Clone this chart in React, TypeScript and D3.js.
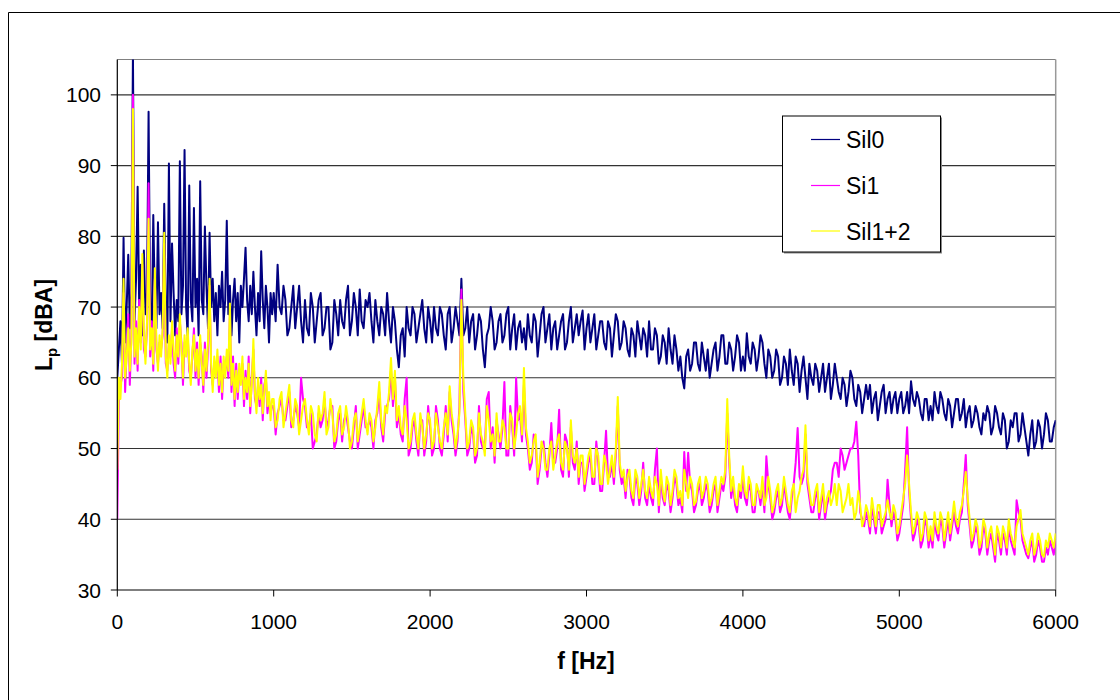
import React from "react";
import * as d3 from "d3";

const yTicks = [30, 40, 50, 60, 70, 80, 90, 100];
const xTicks = [0, 1000, 2000, 3000, 4000, 5000, 6000];
const seriesNames = ["Sil0", "Si1", "Sil1+2"];
const seriesColors = ["#000080", "#FF00FF", "#FFFF00"];

// frequency grids: 0..990 Hz every 10 Hz, 1000..6000 Hz every 12.5 Hz
const lowFreqs = d3.range(0, 1000, 10);
const highFreqs = d3.range(1000, 6000.1, 12.5);

// Sil0 (navy): 0..990 Hz
const sil0Low = [
  60, 64, 68, 62, 79.8, 65, 70, 77.4, 67, 72,
  106, 68, 74, 87, 70, 76, 66, 78, 69, 72,
  97.6, 70, 66, 83, 71, 67, 82, 69, 72, 67,
  84.6, 70, 65, 90.3, 68, 79, 72, 66, 71, 68,
  90.6, 69, 73, 92.2, 70, 66, 87.2, 71, 68, 84,
  70, 74, 66, 87.8, 71, 69, 81.4, 73, 67, 80.5,
  70, 74, 68, 72, 66, 73, 70, 75, 68, 71,
  82.2, 69, 73, 66, 71, 74, 68, 72, 65, 73,
  70, 74, 78.4, 71, 68, 73, 69, 75, 70, 66,
  72, 68, 77.9, 71, 67, 73, 70, 65, 72, 69,
];
// Sil0: 1000, 1025, ... 6000 Hz
const sil0High = [
  72, 76, 69, 71, 67, 73, 70, 68,
  71, 66, 70, 68, 72, 67, 70, 65,
  69, 71, 67, 73, 68, 70, 72.5, 67,
  70, 68, 71, 66, 69, 72, 65, 68,
  61.5, 67, 70, 66, 69, 67, 71, 65,
  68, 70, 66, 69, 64, 70, 67, 68,
  74, 67, 65, 69, 66, 68, 61.5, 67,
  68, 65, 69, 66, 70, 67, 64, 68,
  67, 69, 65, 68, 66, 70, 67, 64,
  68, 66, 69, 65, 70, 67, 66, 69.5,
  67, 65, 69, 66, 68, 64, 67, 66,
  68, 65, 67, 63, 66, 68, 64, 66,
  68, 64, 66, 63, 65, 67, 62, 64,
  63, 58.5, 64, 62, 65, 61, 63, 64,
  62, 65, 63, 66, 62, 64, 63, 65,
  63, 66.3, 62, 64, 63, 65, 60, 63,
  61, 63, 60, 62, 64, 59, 62, 61,
  60, 62, 59, 61, 60, 58, 62, 59,
  60, 57, 59, 58, 60, 56, 58, 57,
  57, 55, 58, 56, 59, 57, 55, 58,
  57, 55, 58, 59.5, 56, 57, 54, 57,
  56, 58, 55, 57, 54, 56, 55, 57,
  55, 53, 56, 54, 55, 52, 54, 55,
  53, 55, 52, 54, 51, 53, 55, 52,
  53, 49, 54, 51, 53, 52, 54, 51,
  54,
];
// Sil0: 1012.5, 1037.5, ... 5987.5 Hz
const sil0HighMid = [
  68, 70, 73, 66, 70, 67, 73, 65,
  67, 72, 65, 71, 66, 70, 64, 71,
  66, 68, 71, 66, 72, 66, 68, 71,
  72, 65, 68, 70, 66, 68, 70, 64,
  66, 63, 67, 70, 65, 69, 67, 70,
  65, 67, 70, 66, 69, 65, 70, 66,
  66, 70, 68, 64, 69, 64, 66, 70,
  64, 68, 65, 69, 64, 69, 67, 65,
  64, 66, 69, 63, 69, 65, 69, 67,
  64, 68, 64, 68, 65, 69, 68, 64,
  69, 67, 64, 68, 65, 68, 63, 69,
  64, 68, 64, 67, 63, 66, 67, 63,
  64, 67, 62, 66, 62, 64, 66, 61,
  60, 63, 61, 65, 62, 65, 61, 60,
  64, 61, 66, 62, 65, 61, 66, 61,
  61, 63, 65, 61, 66, 62, 64, 60,
  64, 59, 63, 59, 61, 63, 58, 63,
  57, 60, 62, 58, 62, 60, 57, 62,
  58, 60, 56, 61, 57, 59, 55, 59,
  59, 57, 54, 58, 55, 58, 57, 55,
  58, 56, 55, 57, 58, 55, 57, 54,
  54, 56, 58, 55, 57, 53, 57, 54,
  57, 55, 53, 56, 53, 55, 56, 52,
  56, 53, 55, 50, 54, 55, 51, 55,
  51, 52, 50, 54, 50, 55, 51, 53,
];

// Si1 (magenta)
const si1Low = [
  40, 57, 59, 60, 72, 58, 64, 69, 59, 66,
  100, 62, 68, 61, 71, 65, 76, 64, 63, 67,
  87.5, 63, 68, 61, 74, 64, 62, 65, 64, 66,
  79, 62, 61, 65, 63, 67, 62, 60, 67, 62,
  68, 65, 59, 65, 64, 66, 61, 60, 63, 67,
  60, 65, 59, 65, 63, 58, 65, 60, 64, 73,
  61, 59, 62, 61, 63, 58, 63, 57, 62, 61,
  63, 60, 69, 58, 63, 56, 62, 57, 61, 60,
  62, 56, 61, 57, 63, 55, 60, 64, 57, 56,
  59, 56, 60, 54, 59, 60, 55, 57, 55, 56,
];
const si1High = [
  56, 55, 57, 54, 58, 54, 55, 60,
  56, 53, 50, 52, 53, 57, 54, 56,
  51, 55, 54, 53, 50, 56, 52, 56,
  53, 53, 54, 58, 51, 56, 61, 60,
  55, 51, 60, 50, 54, 49, 54, 51,
  53, 50, 54, 49, 56, 58, 52, 51,
  72.5, 54, 50, 52, 49, 51, 50, 58,
  53, 54, 50, 59.4, 49, 53, 60, 55,
  59, 50, 48, 51, 47, 51, 46, 53.6,
  48, 55.5, 46, 51, 53, 47, 45, 48,
  46, 49, 45, 48, 44, 52.5, 46, 45,
  56, 45, 43, 46, 42, 45, 44, 43,
  45, 42, 50, 46, 42, 44, 43, 45,
  43, 49.5, 49.4, 44, 42, 45, 43, 44,
  42, 45, 43, 44, 55, 43, 42, 44,
  46, 42, 44, 41, 44, 45, 48.9, 43,
  41, 44, 42, 43, 40, 45, 52.9, 45,
  52, 43, 41, 44, 42, 40, 43, 47,
  48, 50, 47, 49, 50, 53.8, 41, 39,
  40, 42, 38, 41, 39, 45.6, 39, 40,
  38, 42, 53, 40, 38, 39, 37, 39,
  38, 40, 37, 39, 38, 37, 41, 38,
  41, 49.1, 39, 37, 38, 36, 38, 37,
  36, 38, 35, 37, 39, 36, 42.7, 40,
  36, 34.5, 37, 35, 36, 34, 35, 36,
  37,
];
const si1HighMid = [
  52, 56, 54, 56, 53, 56, 53, 57,
  53, 55, 51, 55, 54, 53, 56, 50,
  54, 51, 55, 51, 53, 50, 54, 53,
  54, 50, 55, 53, 55, 57, 56, 53,
  52, 57, 49, 53, 51, 54, 49, 56,
  49, 56, 50, 52, 51, 54, 49, 56,
  58, 49, 53, 48, 56, 50, 57, 50,
  48, 52, 53, 49, 56, 49, 54, 51,
  52, 47, 52, 45, 50, 48, 49, 48,
  50, 47, 52, 46, 48, 51, 48, 44,
  48, 45, 51, 44, 48, 46, 48, 49,
  47, 46, 47, 43, 46, 42, 48, 42,
  43, 47, 41, 43, 45, 41, 46, 42,
  41, 44, 45, 41, 44, 42, 45, 41,
  44, 41, 45, 46, 48, 45, 41, 43,
  43, 45, 41, 44, 42, 41, 45, 40,
  43, 41, 45, 41, 43, 48, 46, 46,
  45, 41, 43, 40, 44, 42, 44, 48,
  46, 49, 48, 50, 51, 49, 40, 41,
  38, 40, 41, 38, 40, 42, 41, 37,
  40, 47, 44, 37, 40, 36, 40, 36,
  36, 38, 40, 36, 40, 39, 39, 40,
  45, 42, 36, 39, 35, 39, 35, 38,
  34, 37, 38, 35, 37, 35, 41, 37,
  35, 36, 34, 37, 34, 36, 37, 35,
];

// Sil1+2 (yellow)
const sil12Low = [
  47, 60, 57, 62, 74, 60, 63, 67, 61, 65,
  98, 63, 67, 62, 70, 64, 77.5, 66, 62, 68,
  82.5, 64, 67, 62, 75.5, 65, 61, 66, 63, 67,
  80.5, 63, 60, 66, 62, 68, 64, 61, 66, 63,
  69, 64, 60, 66, 63, 67, 62, 59, 64, 66,
  61, 64, 60, 66, 62, 59, 64, 61, 65, 74,
  62, 58, 63, 60, 64, 59, 62, 58, 63, 60,
  64, 61, 70.5, 59, 62, 57, 61, 58, 62, 59,
  63, 57, 60, 58, 62, 56, 59, 65.5, 58, 55,
  60, 57, 59, 55, 58, 61, 56, 58, 54, 57,
];
const sil12High = [
  57, 54, 58, 55, 59, 53, 56, 54,
  57, 52, 55, 51, 54, 58, 53, 55,
  52, 56, 53, 54, 51, 55, 53, 57,
  52, 54, 53, 59.4, 52, 55, 62.8, 61,
  56, 52, 54, 51, 55, 50, 53, 52,
  54, 51, 53, 50, 55, 58.8, 53, 52,
  71, 55, 51, 53, 50, 52, 49, 54,
  52, 55, 51, 53, 50, 54, 52, 56,
  61.4, 51, 49, 52, 48, 50, 47, 51,
  49, 52, 47, 50, 54, 48, 46, 49,
  47, 50, 46, 49, 45, 48, 47, 46,
  57.3, 46, 44, 47, 43, 46, 45, 44,
  46, 43, 45, 47, 42.5, 45, 44, 46,
  44, 47, 43, 45, 42.5, 46, 44, 45,
  43, 46, 44, 45, 57, 44, 43, 45,
  47.5, 43, 45, 42, 44, 46, 43, 44,
  42, 45, 43, 44, 41, 45, 43, 46,
  53.3, 44, 42, 45, 43, 41, 44, 43,
  42, 44, 42, 45, 43, 41, 42, 40,
  41, 43, 39, 42, 40, 42.7, 40, 41,
  39, 43, 49, 41, 39, 40, 38, 40,
  39, 41, 38, 40, 39, 38, 42.5, 39,
  42, 46.7, 40, 38, 39, 37, 39, 38,
  37, 39, 36, 38, 40, 37, 39, 41.3,
  37, 35, 38, 36, 37, 34.7, 36, 37,
  38,
];
const sil12HighMid = [
  53, 57, 53, 57, 54, 57, 52, 56,
  54, 56, 52, 56, 55, 52, 57, 51,
  55, 52, 56, 50, 54, 51, 55, 54,
  55, 51, 56, 54, 56, 58, 57, 54,
  53, 56, 50, 54, 52, 55, 50, 55,
  50, 55, 51, 53, 52, 55, 50, 55,
  60, 50, 54, 49, 55, 51, 56, 51,
  49, 51, 54, 50, 55, 50, 55, 52,
  53, 48, 51, 46, 51, 47, 50, 47,
  51, 48, 51, 47, 49, 50, 49, 45,
  49, 46, 50, 45, 49, 45, 49, 50,
  48, 47, 46, 44, 47, 43, 47, 43,
  44, 46, 42, 44, 46, 42, 47, 43,
  42, 45, 46, 42, 45, 43, 46, 42,
  45, 42, 46, 47, 49, 46, 42, 44,
  44, 46, 42, 45, 43, 42, 46, 41,
  44, 42, 46, 42, 44, 41, 44, 47,
  46, 42, 44, 41, 45, 43, 42, 45,
  45, 41, 43, 42, 40, 44, 39, 42,
  39, 41, 42, 39, 41, 41, 42, 38,
  41, 45, 45, 38, 41, 37, 41, 37,
  37, 39, 41, 37, 41, 40, 40, 41,
  44, 43, 37, 40, 36, 40, 36, 39,
  35, 38, 39, 36, 38, 36, 40, 38,
  36, 37, 35, 38, 35, 37, 38, 36,
];

// merge the 25 Hz readings with the in-between readings
function interleave(main: number[], mid: number[]): number[] {
  const out: number[] = [];
  main.forEach((v, i) => {
    out.push(v);
    if (i < mid.length) out.push(mid[i]);
  });
  return out;
}

const freqs = [...lowFreqs, ...highFreqs];
const seriesValues = [
  [...sil0Low, ...interleave(sil0High, sil0HighMid)],
  [...si1Low, ...interleave(si1High, si1HighMid)],
  [...sil12Low, ...interleave(sil12High, sil12HighMid)],
];

const FONT = "'Liberation Sans', Arial, Helvetica, sans-serif";

export default function App() {
  const left = 117.3, right = 1055.7, top = 59.5, bottom = 590;
  const x = d3.scaleLinear().domain([0, 6000]).range([left, right]);
  const y = d3.scaleLinear().domain([30, 105]).range([bottom, top]);
  const line = d3
    .line<number>()
    .x((_, i) => x(freqs[i]))
    .y((d) => y(d));

  const legendX = 782.5, legendY = 116, legendW = 158, legendH = 136;
  const rowY = [139.5, 185.5, 231];

  return (
    <svg
      width={1120}
      height={700}
      style={{ position: "absolute", left: 0, top: 0, background: "#fff" }}
      fontFamily={FONT}
    >
      <defs>
        <clipPath id="plotClip">
          <rect x={left} y={top} width={right - left} height={bottom - top} />
        </clipPath>
      </defs>
      {/* outer chart border */}
      <line x1={8.5} y1={12.5} x2={1120} y2={12.5} stroke="#000" strokeWidth={1} />
      <line x1={8.5} y1={12.5} x2={8.5} y2={700} stroke="#000" strokeWidth={1} />

      {/* grid lines */}
      {yTicks.filter((t) => t > 30).map((t) => (
        <line key={"g" + t} x1={left} x2={right} y1={y(t)} y2={y(t)} stroke="#333" strokeWidth={1.1} />
      ))}
      {/* plot area top/right border */}
      <line x1={left} x2={right} y1={top} y2={top} stroke="#808080" strokeWidth={1.2} />
      <line x1={right} x2={right} y1={top} y2={bottom} stroke="#999" strokeWidth={1.5} />

      {/* series */}
      <g clipPath="url(#plotClip)">
        {seriesValues.map((vals, si) => (
          <path
            key={seriesNames[si]}
            d={line(vals) || ""}
            fill="none"
            stroke={seriesColors[si]}
            strokeWidth={2}
            strokeLinejoin="round"
          />
        ))}
      </g>

      {/* axes */}
      <line x1={left} x2={left} y1={top} y2={bottom} stroke="#000" strokeWidth={1.2} />
      <line x1={left} x2={right} y1={bottom} y2={bottom} stroke="#000" strokeWidth={1.2} />
      {yTicks.map((t) => (
        <g key={"yt" + t}>
          <line x1={left - 6.5} x2={left} y1={y(t)} y2={y(t)} stroke="#000" strokeWidth={1} />
          <text x={101} y={y(t) + 7.5} textAnchor="end" fontSize={21} fill="#000">
            {t}
          </text>
        </g>
      ))}
      {xTicks.map((t) => (
        <g key={"xt" + t}>
          <line x1={x(t)} x2={x(t)} y1={bottom} y2={bottom + 6.5} stroke="#000" strokeWidth={1} />
          <text x={x(t)} y={628.5} textAnchor="middle" fontSize={21} fill="#000">
            {t}
          </text>
        </g>
      ))}

      {/* axis titles */}
      <text x={586} y={669} textAnchor="middle" fontSize={23} fontWeight="bold" fill="#000">
        f [Hz]
      </text>
      <text
        transform="translate(52,325) rotate(-90)"
        textAnchor="middle"
        fontSize={23}
        fontWeight="bold"
        fill="#000"
      >
        L<tspan fontSize={15} dy={5}>p</tspan>
        <tspan dy={-5}> [dBA]</tspan>
      </text>

      {/* legend */}
      <rect x={legendX + 1.5} y={legendY + 1.5} width={legendW} height={legendH} fill="#888" />
      <rect x={legendX} y={legendY} width={legendW} height={legendH} fill="#fff" stroke="#000" strokeWidth={1} />
      {seriesNames.map((n, i) => (
        <g key={"lg" + n}>
          <line x1={811} x2={840} y1={rowY[i]} y2={rowY[i]} stroke={seriesColors[i]} strokeWidth={1.2} />
          <text x={846} y={rowY[i] + 8.5} fontSize={23} fill="#000">
            {n}
          </text>
        </g>
      ))}
    </svg>
  );
}
